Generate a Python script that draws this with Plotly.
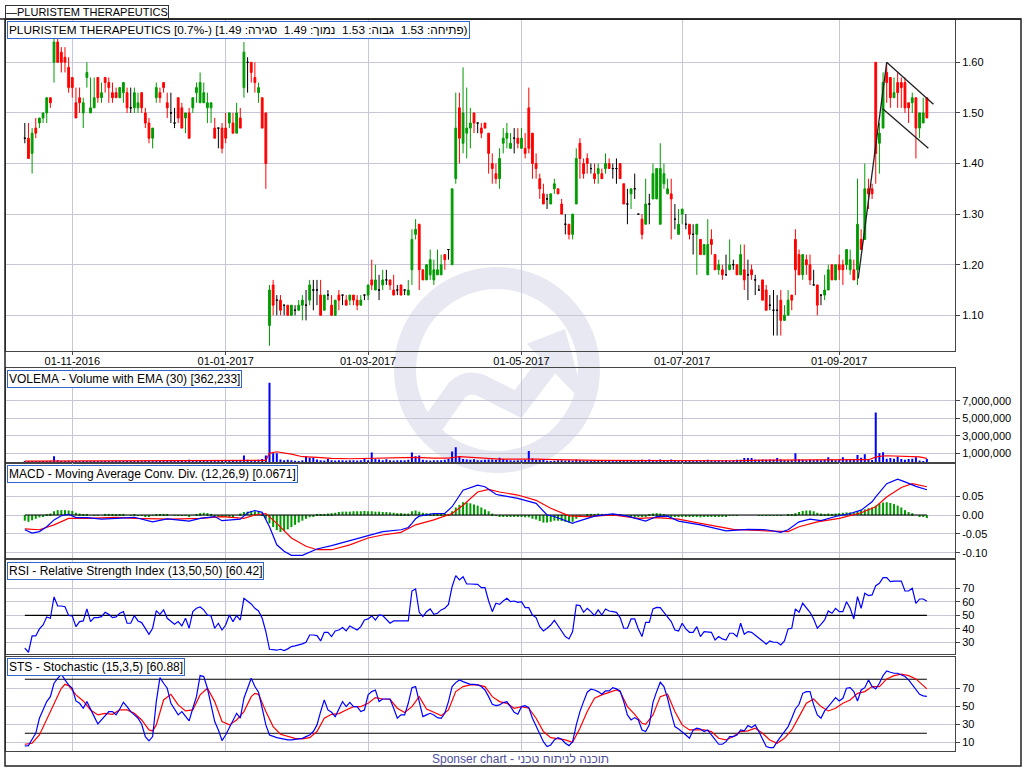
import numpy as np
import pandas as pd
import plotly.graph_objects as go

W, H = 1024, 768

# NYSE holidays inside the window
holidays = ["2016-11-24", "2016-12-26", "2017-01-02", "2017-01-16", "2017-02-20",
            "2017-04-14", "2017-05-29", "2017-07-04", "2017-09-04"]
dates = pd.bdate_range("2016-10-13", "2017-10-06", freq="C", holidays=holidays)
days = np.arange(len(dates))

tick_months = ["2016-11", "2017-01", "2017-03", "2017-05", "2017-07", "2017-09"]

opens = [
    1.45, 1.45, 1.42, 1.47, 1.48, 1.49, 1.50, 1.53, 1.60, 1.64,
    1.62, 1.61, 1.59, 1.57, 1.52, 1.53, 1.50, 1.57, 1.50, 1.51,
    1.57, 1.53, 1.57, 1.56, 1.54, 1.54, 1.53, 1.54, 1.54, 1.51,
    1.51, 1.51, 1.54, 1.50, 1.48, 1.45, 1.53, 1.54, 1.56, 1.52,
    1.50, 1.48, 1.53, 1.51, 1.49, 1.50, 1.51, 1.54, 1.52, 1.52,
    1.51, 1.51, 1.47, 1.47, 1.47, 1.47, 1.48, 1.48, 1.46, 1.49,
    1.55, 1.60, 1.60, 1.57, 1.54, 1.53, 1.50, 1.08, 1.16, 1.13,
    1.13, 1.12, 1.12, 1.10, 1.11, 1.11, 1.12, 1.12, 1.13, 1.15,
    1.15, 1.14, 1.11, 1.14, 1.12, 1.10, 1.14, 1.14, 1.13, 1.13,
    1.14, 1.13, 1.12, 1.14, 1.14, 1.17, 1.15, 1.15, 1.16, 1.17,
    1.17, 1.15, 1.15, 1.16, 1.15, 1.14, 1.19, 1.26, 1.28, 1.19,
    1.17, 1.18, 1.17, 1.18, 1.18, 1.22, 1.23, 1.20, 1.37, 1.51,
    1.44, 1.46, 1.47, 1.50, 1.48, 1.47, 1.48, 1.46, 1.40, 1.38,
    1.37, 1.44, 1.45, 1.43, 1.45, 1.45, 1.43, 1.43, 1.51, 1.46,
    1.40, 1.37, 1.34, 1.33, 1.32, 1.35, 1.35, 1.32, 1.28, 1.28,
    1.26, 1.32, 1.44, 1.40, 1.41, 1.39, 1.38, 1.38, 1.38, 1.39,
    1.40, 1.39, 1.39, 1.40, 1.36, 1.32, 1.34, 1.35, 1.30, 1.29,
    1.28, 1.32, 1.33, 1.33, 1.28, 1.36, 1.34, 1.34, 1.29, 1.26,
    1.30, 1.28, 1.28, 1.26, 1.26, 1.25, 1.22, 1.18, 1.25, 1.22,
    1.19, 1.19, 1.18, 1.19, 1.20, 1.20, 1.18, 1.19, 1.18, 1.19,
    1.17, 1.15, 1.17, 1.15, 1.12, 1.11, 1.11, 1.13, 1.09, 1.10,
    1.14, 1.25, 1.22, 1.18, 1.21, 1.20, 1.16, 1.16, 1.14, 1.14,
    1.15, 1.20, 1.17, 1.20, 1.20, 1.20, 1.19, 1.19, 1.19, 1.25,
    1.25, 1.35, 1.35, 1.60, 1.44, 1.47, 1.58, 1.57, 1.53, 1.56,
    1.56, 1.56, 1.52, 1.52, 1.53, 1.47, 1.48, 1.53,
]
highs = [
    1.48, 1.48, 1.47, 1.49, 1.49, 1.50, 1.53, 1.53, 1.65, 1.65,
    1.63, 1.63, 1.61, 1.57, 1.55, 1.55, 1.53, 1.60, 1.57, 1.57,
    1.57, 1.56, 1.57, 1.57, 1.56, 1.55, 1.55, 1.56, 1.55, 1.55,
    1.55, 1.54, 1.54, 1.51, 1.49, 1.47, 1.56, 1.55, 1.56, 1.54,
    1.54, 1.51, 1.53, 1.52, 1.50, 1.51, 1.53, 1.56, 1.58, 1.56,
    1.54, 1.52, 1.49, 1.47, 1.48, 1.50, 1.50, 1.50, 1.52, 1.51,
    1.64, 1.61, 1.60, 1.60, 1.56, 1.53, 1.50, 1.16, 1.17, 1.14,
    1.14, 1.12, 1.12, 1.12, 1.12, 1.13, 1.14, 1.15, 1.17, 1.17,
    1.17, 1.17, 1.14, 1.15, 1.14, 1.13, 1.15, 1.14, 1.14, 1.14,
    1.14, 1.14, 1.14, 1.14, 1.16, 1.21, 1.20, 1.18, 1.19, 1.19,
    1.17, 1.18, 1.16, 1.16, 1.15, 1.17, 1.27, 1.29, 1.28, 1.19,
    1.20, 1.23, 1.21, 1.23, 1.22, 1.22, 1.23, 1.35, 1.54, 1.54,
    1.59, 1.55, 1.51, 1.50, 1.48, 1.48, 1.48, 1.46, 1.42, 1.40,
    1.43, 1.47, 1.48, 1.46, 1.47, 1.47, 1.47, 1.46, 1.55, 1.46,
    1.42, 1.38, 1.36, 1.34, 1.34, 1.37, 1.35, 1.33, 1.30, 1.28,
    1.30, 1.43, 1.45, 1.41, 1.42, 1.40, 1.40, 1.40, 1.39, 1.42,
    1.41, 1.40, 1.41, 1.40, 1.36, 1.35, 1.35, 1.38, 1.30, 1.30,
    1.37, 1.34, 1.40, 1.39, 1.44, 1.40, 1.37, 1.37, 1.32, 1.31,
    1.31, 1.30, 1.28, 1.28, 1.28, 1.25, 1.24, 1.29, 1.27, 1.22,
    1.21, 1.20, 1.22, 1.25, 1.21, 1.20, 1.24, 1.24, 1.21, 1.20,
    1.18, 1.16, 1.17, 1.16, 1.14, 1.15, 1.14, 1.15, 1.12, 1.15,
    1.14, 1.27, 1.23, 1.22, 1.22, 1.22, 1.19, 1.16, 1.14, 1.18,
    1.20, 1.20, 1.20, 1.22, 1.21, 1.23, 1.23, 1.21, 1.37, 1.27,
    1.40, 1.37, 1.36, 1.60, 1.48, 1.58, 1.60, 1.57, 1.57, 1.58,
    1.57, 1.57, 1.52, 1.54, 1.53, 1.50, 1.53, 1.53,
]
lows = [
    1.44, 1.41, 1.38, 1.45, 1.47, 1.48, 1.48, 1.51, 1.56, 1.60,
    1.58, 1.58, 1.54, 1.53, 1.49, 1.50, 1.47, 1.55, 1.50, 1.51,
    1.52, 1.52, 1.54, 1.52, 1.52, 1.53, 1.53, 1.52, 1.50, 1.50,
    1.50, 1.50, 1.50, 1.47, 1.44, 1.43, 1.52, 1.52, 1.54, 1.49,
    1.48, 1.47, 1.48, 1.47, 1.46, 1.45, 1.50, 1.52, 1.52, 1.52,
    1.48, 1.48, 1.45, 1.43, 1.42, 1.44, 1.47, 1.46, 1.46, 1.47,
    1.53, 1.54, 1.56, 1.54, 1.52, 1.47, 1.35, 1.04, 1.10, 1.10,
    1.10, 1.10, 1.10, 1.10, 1.10, 1.11, 1.09, 1.09, 1.12, 1.11,
    1.12, 1.10, 1.11, 1.13, 1.10, 1.10, 1.11, 1.12, 1.12, 1.12,
    1.12, 1.11, 1.12, 1.13, 1.13, 1.15, 1.15, 1.13, 1.15, 1.16,
    1.15, 1.14, 1.14, 1.14, 1.14, 1.14, 1.16, 1.25, 1.15, 1.17,
    1.17, 1.17, 1.16, 1.18, 1.18, 1.19, 1.21, 1.20, 1.36, 1.40,
    1.42, 1.41, 1.43, 1.46, 1.46, 1.45, 1.47, 1.38, 1.36, 1.36,
    1.35, 1.42, 1.43, 1.43, 1.42, 1.43, 1.43, 1.41, 1.42, 1.37,
    1.37, 1.33, 1.32, 1.31, 1.32, 1.34, 1.34, 1.30, 1.26, 1.25,
    1.25, 1.32, 1.37, 1.37, 1.38, 1.38, 1.36, 1.36, 1.37, 1.38,
    1.39, 1.37, 1.36, 1.37, 1.32, 1.28, 1.31, 1.33, 1.30, 1.25,
    1.28, 1.28, 1.33, 1.33, 1.28, 1.35, 1.34, 1.25, 1.27, 1.26,
    1.28, 1.27, 1.25, 1.22, 1.18, 1.22, 1.22, 1.18, 1.22, 1.19,
    1.18, 1.17, 1.18, 1.19, 1.19, 1.18, 1.18, 1.15, 1.13, 1.17,
    1.14, 1.15, 1.13, 1.11, 1.11, 1.06, 1.06, 1.06, 1.09, 1.10,
    1.11, 1.14, 1.18, 1.17, 1.18, 1.16, 1.16, 1.10, 1.12, 1.13,
    1.15, 1.17, 1.17, 1.17, 1.16, 1.19, 1.18, 1.17, 1.16, 1.23,
    1.25, 1.31, 1.33, 1.36, 1.38, 1.47, 1.52, 1.51, 1.53, 1.51,
    1.51, 1.50, 1.48, 1.50, 1.41, 1.45, 1.48, 1.49,
]
closes = [
    1.45, 1.41, 1.46, 1.46, 1.49, 1.50, 1.53, 1.52, 1.64, 1.60,
    1.60, 1.60, 1.55, 1.55, 1.49, 1.52, 1.52, 1.58, 1.51, 1.53,
    1.53, 1.54, 1.56, 1.55, 1.53, 1.53, 1.55, 1.56, 1.51, 1.51,
    1.54, 1.52, 1.51, 1.48, 1.45, 1.47, 1.55, 1.53, 1.55, 1.51,
    1.50, 1.48, 1.49, 1.47, 1.50, 1.45, 1.53, 1.55, 1.56, 1.54,
    1.52, 1.52, 1.45, 1.47, 1.43, 1.45, 1.50, 1.46, 1.50, 1.47,
    1.62, 1.60, 1.58, 1.56, 1.55, 1.47, 1.40, 1.15, 1.12, 1.13,
    1.11, 1.12, 1.10, 1.12, 1.11, 1.12, 1.13, 1.12, 1.16, 1.15,
    1.15, 1.10, 1.14, 1.14, 1.10, 1.13, 1.13, 1.14, 1.12, 1.14,
    1.13, 1.12, 1.13, 1.14, 1.16, 1.16, 1.17, 1.15, 1.17, 1.17,
    1.16, 1.14, 1.15, 1.14, 1.15, 1.15, 1.25, 1.27, 1.19, 1.17,
    1.20, 1.21, 1.19, 1.19, 1.20, 1.21, 1.23, 1.35, 1.47, 1.45,
    1.50, 1.47, 1.48, 1.48, 1.48, 1.46, 1.47, 1.42, 1.39, 1.37,
    1.41, 1.45, 1.46, 1.44, 1.45, 1.44, 1.45, 1.42, 1.43, 1.40,
    1.39, 1.35, 1.32, 1.33, 1.34, 1.36, 1.34, 1.30, 1.28, 1.26,
    1.30, 1.41, 1.41, 1.38, 1.40, 1.39, 1.37, 1.39, 1.37, 1.40,
    1.39, 1.39, 1.39, 1.37, 1.32, 1.32, 1.35, 1.35, 1.30, 1.26,
    1.32, 1.32, 1.38, 1.39, 1.39, 1.38, 1.35, 1.33, 1.29, 1.28,
    1.31, 1.28, 1.26, 1.26, 1.28, 1.22, 1.24, 1.24, 1.24, 1.19,
    1.20, 1.18, 1.18, 1.20, 1.20, 1.18, 1.22, 1.17, 1.18, 1.18,
    1.17, 1.15, 1.13, 1.11, 1.12, 1.11, 1.11, 1.09, 1.10, 1.13,
    1.13, 1.19, 1.18, 1.22, 1.20, 1.17, 1.16, 1.12, 1.14, 1.15,
    1.19, 1.17, 1.20, 1.19, 1.19, 1.23, 1.21, 1.17, 1.28, 1.23,
    1.35, 1.34, 1.34, 1.42, 1.46, 1.56, 1.56, 1.53, 1.54, 1.54,
    1.55, 1.51, 1.51, 1.53, 1.47, 1.50, 1.50, 1.49,
]

# volume in thousands of shares
volumes_k = [
    100, 120, 130, 110, 100, 120, 130, 140, 650, 200,
    120, 130, 150, 120, 110, 100, 150, 120, 100, 110,
    120, 100, 110, 100, 120, 110, 100, 120, 100, 110,
    100, 120, 110, 150, 130, 120, 110, 100, 110, 120,
    110, 100, 120, 130, 150, 250, 220, 150, 130, 200,
    120, 110, 130, 120, 150, 130, 120, 110, 150, 160,
    750, 250, 200, 220, 250, 350, 750, 9050, 1000, 1000,
    280, 200, 270, 200, 150, 130, 200, 650, 500, 500,
    280, 200, 180, 350, 200, 180, 200, 200, 180, 220,
    200, 180, 200, 350, 220, 1100, 350, 300, 200, 330,
    200, 180, 200, 220, 200, 250, 1100, 650, 750, 250,
    200, 180, 200, 220, 200, 250, 350, 1200, 1700, 650,
    350, 280, 250, 330, 200, 220, 250, 300, 280, 250,
    500, 350, 250, 200, 180, 200, 220, 250, 1250, 400,
    250, 250, 250, 150, 120, 150, 200, 200, 180, 200,
    180, 300, 200, 150, 130, 150, 200, 220, 180, 150,
    120, 130, 150, 120, 180, 200, 180, 150, 200, 250,
    220, 300, 180, 200, 300, 150, 180, 300, 150, 130,
    150, 120, 180, 150, 200, 150, 220, 250, 180, 150,
    200, 180, 220, 150, 200, 250, 250, 450, 450, 450,
    300, 250, 300, 250, 300, 250, 450, 300, 200, 180,
    200, 1000, 300, 250, 200, 250, 200, 250, 200, 250,
    550, 250, 200, 250, 550, 300, 280, 300, 800, 500,
    900, 230, 230, 5650, 1000, 1110, 380, 460, 380, 610,
    340, 270, 340, 380, 540, 190, 120, 362,
]
vol_ema_days = [0, 20, 40, 60, 66, 67, 69, 73, 76, 80, 84, 89, 94, 103, 107, 112, 116, 119,
                125, 130, 140, 145, 157, 176, 194, 203, 212, 222, 231, 233, 234, 236, 240, 243, 245, 247]
vol_ema_k = [110, 120, 120, 150, 200, 1000, 1180, 910, 610, 530, 420, 380, 420, 420, 530, 460, 460, 610,
             420, 340, 340, 270, 190, 150, 150, 230, 270, 230, 270, 560, 650, 720, 700, 680, 600, 430]

macd_days = [0, 2, 4, 6, 8, 10, 12, 14, 17, 21, 25, 30, 35, 39, 45, 48, 52, 54, 59, 61, 63, 65, 67,
             69, 71, 73, 76, 80, 84, 89, 94, 98, 103, 105, 106, 107, 108, 112, 115, 117, 120, 124,
             126, 129, 130, 135, 140, 143, 145, 150, 151, 156, 161, 165, 170, 173, 176, 179, 185,
             192, 198, 203, 207, 209, 212, 215, 218, 222, 226, 229, 232, 233, 236, 239, 241, 244, 247]
macd_vals = [-0.039, -0.048, -0.044, -0.031, -0.013, -0.002, 0.002, -0.007, -0.007, -0.011, -0.009,
             -0.006, -0.018, -0.010, -0.016, -0.009, -0.004, -0.015, -0.011, 0.006, 0.012, 0.007, -0.031,
             -0.079, -0.096, -0.107, -0.107, -0.090, -0.081, -0.068, -0.053, -0.044, -0.039, -0.033,
             -0.022, -0.010, -0.003, 0.004, 0.004, 0.022, 0.066, 0.079,
             0.075, 0.055, 0.053, 0.044, 0.031, 0.000, -0.004, -0.022, -0.018, -0.003, 0.003, -0.003,
             -0.016, -0.004, -0.003, -0.016, -0.026,
             -0.042, -0.038, -0.039, -0.046, -0.039, -0.018, -0.011, -0.015, -0.004, 0.004, 0.013,
             0.035, 0.048, 0.083, 0.095, 0.088, 0.076, 0.067]
signal_days = [0, 4, 8, 12, 17, 25, 30, 40, 48, 54, 60, 63, 66, 69, 73, 77, 80, 84, 89, 94, 98, 103,
               107, 112, 117, 120, 124, 127, 130, 135, 140, 144, 149, 154, 161, 168, 173, 179, 185,
               194, 203, 209, 212, 217, 223, 229, 233, 236, 240, 243, 247]
signal_vals = [-0.037, -0.039, -0.026, -0.009, -0.009, -0.006, -0.009, -0.011, -0.009, -0.004, -0.009,
               0.000, 0.004, -0.022, -0.061, -0.083, -0.092, -0.092, -0.079, -0.061, -0.053, -0.046,
               -0.026, -0.013, 0.004, 0.026, 0.061, 0.068, 0.061, 0.053, 0.039, 0.018, -0.002, -0.004,
               0.000, -0.009, -0.007, -0.011, -0.022,
               -0.038, -0.042, -0.044, -0.031, -0.018, -0.009, 0.006, 0.022, 0.048, 0.073, 0.083, 0.075]
macd_hist = [
    -0.015, -0.018, -0.014, -0.010, -0.006, -0.003, 0.001, 0.004, 0.010, 0.013,
    0.013, 0.013, 0.012, 0.011, 0.006, 0.004, 0.002, 0.003, 0.000, -0.001,
    -0.002, 0.000, 0.003, 0.003, 0.001, 0.001, 0.001, 0.003, 0.000, -0.001,
    0.001, -0.001, -0.002, -0.003, -0.004, -0.002, 0.002, 0.002, 0.003, 0.001,
    0.000, -0.001, -0.001, -0.002, -0.001, -0.003, 0.000, 0.003, 0.005, 0.006,
    0.005, 0.003, -0.002, -0.004, -0.005, -0.005, -0.004, -0.004, 0.000, 0.004,
    0.008, 0.009, 0.010, 0.010, 0.009, 0.004, -0.010, -0.022, -0.032, -0.040,
    -0.045, -0.042, -0.038, -0.032, -0.026, -0.020, -0.015, -0.010, -0.006, -0.003,
    0.001, 0.001, 0.002, 0.004, 0.005, 0.006, 0.008, 0.009, 0.009, 0.009,
    0.010, 0.010, 0.010, 0.011, 0.010, 0.010, 0.009, 0.009, 0.008, 0.008,
    0.007, 0.006, 0.005, 0.005, 0.004, 0.004, 0.010, 0.012, 0.009, 0.006,
    0.005, 0.004, 0.003, 0.002, 0.002, 0.002, 0.003, 0.010, 0.020, 0.027,
    0.034, 0.033, 0.031, 0.028, 0.025, 0.020, 0.015, 0.010, 0.004, -0.002,
    -0.004, -0.004, -0.005, -0.004, -0.005, -0.004, -0.005, -0.006, -0.006, -0.010,
    -0.012, -0.016, -0.020, -0.020, -0.018, -0.015, -0.015, -0.016, -0.018, -0.020,
    -0.018, -0.010, -0.004, 0.000, 0.002, 0.003, 0.003, 0.004, 0.003, 0.003,
    0.003, 0.003, 0.002, 0.001, -0.002, -0.004, -0.004, -0.003, -0.003, -0.004,
    -0.003, 0.002, 0.004, 0.005, 0.004, 0.002, -0.001, -0.003, -0.004, -0.004,
    -0.004, -0.005, -0.005, -0.005, -0.005, -0.006, -0.005, -0.005, -0.005, -0.005,
    -0.005, -0.003, -0.003, -0.002, -0.002, -0.002, 0.000, 0.000, 0.000, 0.000,
    0.000, -0.001, -0.002, -0.002, -0.002, -0.002, -0.002, -0.002, 0.000, 0.001,
    0.002, 0.005, 0.008, 0.011, 0.012, 0.012, 0.010, 0.006, 0.004, 0.003,
    0.004, 0.003, 0.004, 0.005, 0.006, 0.007, 0.007, 0.006, 0.010, 0.012,
    0.015, 0.018, 0.020, 0.025, 0.030, 0.033, 0.034, 0.032, 0.029, 0.025,
    0.020, 0.013, 0.008, 0.005, 0.000, -0.003, -0.004, -0.008,
]
rsi = [
    25.6, 22.6, 34.7, 34.7, 39.9, 42.8, 48.8, 47.8, 63.6, 56.9,
    56.9, 56.4, 49.8, 49.5, 41.6, 45.3, 45.8, 54.7, 45.3, 48.3,
    48.3, 49.0, 52.2, 50.7, 48.3, 48.8, 51.5, 52.7, 44.1, 44.1,
    49.8, 45.8, 44.6, 40.4, 35.9, 40.4, 53.5, 50.7, 54.0, 47.8,
    45.8, 43.3, 45.3, 42.1, 47.8, 40.4, 52.7, 55.2, 56.2, 54.0,
    50.2, 49.5, 40.4, 44.1, 39.1, 42.8, 50.2, 45.3, 49.8, 46.5,
    62.6, 60.6, 58.4, 55.2, 53.2, 47.8, 37.9, 24.8, 24.3, 24.1,
    24.8, 23.8, 25.1, 26.8, 27.3, 28.0, 28.8, 30.0, 35.4, 35.4,
    34.9, 31.0, 37.4, 37.4, 34.2, 38.4, 39.1, 40.9, 38.4, 42.1,
    40.9, 39.1, 41.6, 46.5, 47.3, 49.5, 46.5, 50.2, 49.8, 47.3,
    44.1, 45.8, 45.8, 45.8, 45.8, 45.8, 68.0, 69.5, 52.2, 49.0,
    52.7, 54.7, 50.7, 51.5, 54.0, 55.2, 58.1, 71.2, 79.4, 76.2,
    78.6, 73.2, 73.2, 73.2, 73.0, 70.5, 70.5, 60.6, 52.7, 58.9,
    58.1, 60.6, 62.6, 60.1, 60.6, 59.6, 60.1, 55.7, 55.7, 50.2,
    48.3, 41.6, 38.4, 40.4, 42.8, 46.3, 42.3, 37.9, 34.2, 32.5,
    37.9, 57.7, 57.2, 52.2, 55.2, 52.7, 49.8, 54.0, 50.2, 54.7,
    53.2, 52.7, 52.2, 48.3, 40.4, 40.4, 47.3, 47.3, 39.9, 34.2,
    44.8, 44.8, 54.7, 55.9, 55.7, 52.2, 48.3, 45.3, 39.1, 38.4,
    44.1, 39.9, 37.4, 37.4, 41.6, 34.2, 37.9, 37.9, 37.4, 31.7,
    34.2, 32.5, 31.7, 36.7, 36.7, 34.2, 44.1, 35.9, 37.9, 37.4,
    35.4, 33.5, 31.0, 28.5, 31.0, 30.0, 30.0, 28.0, 31.0, 39.9,
    40.4, 54.7, 52.2, 58.9, 55.7, 52.2, 47.3, 40.4, 43.3, 46.5,
    53.2, 51.5, 55.2, 52.7, 52.7, 60.1, 55.2, 47.3, 63.8, 55.2,
    66.3, 64.6, 65.1, 72.0, 73.7, 77.9, 77.9, 74.9, 75.4, 75.4,
    75.4, 68.0, 68.0, 70.0, 58.9, 62.1, 62.1, 60.4,
]
sto_k = [
    5.9, 6.3, 13.3, 20.0, 36.7, 45.9, 55.2, 60.7, 75.6, 81.1,
    85.6, 79.3, 73.7, 70.0, 55.9, 53.3, 47.8, 55.2, 45.9, 38.5,
    30.4, 34.8, 40.4, 44.1, 44.1, 40.4, 47.0, 54.4, 49.6, 44.1,
    40.4, 36.7, 30.0, 16.3, 11.5, 16.3, 55.2, 81.9, 75.6, 70.0,
    53.3, 47.0, 40.4, 44.1, 38.5, 33.7, 47.8, 60.7, 84.1, 83.0,
    70.0, 52.2, 33.0, 23.7, 11.9, 18.1, 25.6, 33.0, 42.2, 36.7,
    58.9, 70.0, 81.1, 71.9, 65.6, 47.8, 29.3, 18.1, 16.3, 15.2,
    14.4, 13.3, 12.6, 12.6, 13.0, 13.7, 14.4, 16.3, 18.1, 21.9,
    29.3, 44.1, 57.0, 45.9, 43.3, 38.5, 47.0, 55.2, 49.6, 54.4,
    49.6, 49.6, 44.1, 45.9, 62.6, 66.3, 68.1, 55.2, 58.1, 58.1,
    58.1, 47.8, 36.7, 40.4, 40.4, 53.3, 70.7, 71.9, 55.9, 38.5,
    40.4, 42.2, 40.4, 37.4, 36.7, 42.2, 55.2, 71.9, 76.3, 79.3,
    77.4, 75.6, 74.4, 74.4, 73.7, 71.9, 68.1, 60.7, 52.2, 50.7,
    51.5, 54.1, 55.2, 49.6, 43.3, 41.1, 49.6, 50.7, 48.5, 36.7,
    27.4, 18.1, 10.7, 5.2, 7.0, 12.6, 15.2, 13.3, 8.9, 6.3,
    10.7, 29.3, 44.1, 55.2, 65.6, 68.9, 68.1, 66.3, 63.3, 67.0,
    67.0, 70.7, 69.3, 67.0, 55.2, 40.4, 34.8, 37.4, 34.8, 23.7,
    21.9, 29.3, 54.4, 66.3, 76.7, 71.9, 58.9, 42.2, 27.4, 24.8,
    21.9, 18.1, 14.4, 23.7, 25.6, 24.8, 21.9, 23.7, 18.1, 12.6,
    7.8, 7.8, 10.7, 16.3, 16.3, 18.1, 23.7, 22.6, 28.5, 26.3,
    29.3, 21.9, 12.6, 5.2, 4.1, 4.1, 10.7, 16.3, 22.6, 27.4,
    36.7, 47.0, 52.2, 64.4, 66.3, 66.3, 51.5, 40.4, 36.7, 44.8,
    49.6, 55.2, 59.6, 55.9, 58.9, 70.0, 70.7, 66.3, 55.9, 68.1,
    70.7, 79.3, 71.9, 69.3, 75.6, 84.1, 89.3, 87.8, 86.7, 86.7,
    84.8, 83.0, 79.3, 73.7, 68.1, 63.3, 61.5, 60.9,
]
sto_d_days = [0, 2, 4, 6, 8, 10, 11, 12, 14, 16, 18, 20, 22, 24, 26, 28, 30, 32, 34, 35, 36, 38, 40,
              42, 44, 46, 48, 50, 52, 54, 56, 58, 60, 62, 63, 64, 66, 68, 70, 72, 74, 76, 78, 80, 82,
              84, 86, 88, 90, 92, 94, 96, 98, 100, 102, 104, 106, 108, 110, 112, 114, 116, 118, 120,
              122, 124, 126, 128, 130, 132, 134, 136, 138, 140, 142, 144, 146, 148, 150, 152, 154,
              156, 158, 160, 162, 163, 165, 167, 169, 170, 172, 174, 176, 178, 180, 182, 184, 186,
              188, 190, 192, 194, 196, 198, 200, 202, 204, 206, 208, 210, 212, 214, 216, 218, 220,
              222, 224, 226, 228, 230, 232, 234, 236, 238, 240, 242, 244, 246, 247]
sto_d_vals = [7.8, 8.9, 18.1, 34.8, 51.5, 70.0, 74.4, 73.0, 62.6, 55.9, 45.9, 40.4, 42.2, 41.1, 45.9,
              45.9, 42.2, 34.8, 23.7, 22.6, 29.3, 57.0, 63.3, 51.5, 44.8, 45.9, 62.6, 70.0, 55.2, 33.0,
              29.3, 34.8, 44.1, 60.7, 64.4, 63.3, 44.1, 27.4, 18.9, 16.3, 14.4, 13.7, 15.2, 21.9, 36.7,
              41.1, 41.9, 45.9, 49.6, 49.6, 53.3, 59.6, 58.1, 57.8, 47.8, 43.0, 49.6, 60.7, 47.0, 43.3,
              39.6, 45.9, 66.3, 71.9, 73.7, 73.7, 71.9, 60.7, 55.2, 53.3, 47.8, 49.6, 47.8, 36.7, 21.9,
              15.2, 13.7, 12.6, 10.0, 25.6, 44.1, 58.9, 62.6, 65.2, 68.1, 66.3, 49.6, 41.1, 31.1, 30.0,
              40.4, 60.7, 63.3, 44.1, 29.3, 23.7, 23.7, 23.7, 21.9, 14.4, 12.6, 16.3, 21.9, 22.6, 25.6,
              20.0, 12.6, 8.9, 14.4, 23.7, 38.5, 53.3, 58.1, 49.6, 44.8, 47.8, 53.3, 57.0, 64.4, 66.3,
              71.9, 71.9, 80.4, 84.1, 85.6, 84.1, 80.4, 73.0, 69.3]

rsi_levels = [50]
sto_levels = [80, 20]
macd_levels = [0]

# hand drawn trend lines: (day0, price0, day1, price1)
trend_lines = [(228.2, 1.173, 236.0, 1.600),
               (236.0, 1.600, 248.8, 1.517),
               (234.9, 1.508, 247.4, 1.430)]

title_main = ("PLURISTEM THERAPEUTICS [0.7%-) [פתיחה: 1.53 \u00a0גבוה: 1.53 \u00a0"
              "נמוך: 1.49 \u00a0סגירה: 1.49)")
titles = [title_main,
          "VOLEMA - Volume with EMA (30) [362,233]",
          "MACD - Moving Average Conv. Div. (12,26,9) [0.0671]",
          "RSI - Relative Strength Index (13,50,50) [60.42]",
          "STS - Stochastic (15,3,5) [60.88]"]

GREEN, RED, BLUE = "#009c00", "#ff0000", "#0000ff"
GRID, FRAME = "#c6c6d6", "#454545"
FONT = "Liberation Sans, Arial, sans-serif"

o, h, l, c = (np.array(a) for a in (opens, highs, lows, closes))
volumes = np.array(volumes_k) * 1000

month_str = dates.strftime("%Y-%m")
tick_pos = [int(np.argmax(month_str == m)) for m in tick_months]
tick_txt = [dates[p].strftime("01-%m-%Y") for p in tick_pos]

# panel pixel boxes (top, bottom), y range and ticks
panels = [
    (20, 351, [1.0295, 1.6836], [1.1, 1.2, 1.3, 1.4, 1.5, 1.6]),
    (368, 462.5, [-0.05e6, 10.75e6], [1e6, 3e6, 5e6, 7e6]),
    (463, 558, [-0.114, 0.138], [-0.10, -0.05, 0.0, 0.05]),
    (560, 654, [21.3, 91], [30, 40, 50, 60, 70]),
    (656.5, 751, [0.3, 105.3], [10, 30, 50, 70]),
]

fig = go.Figure()

for mask, col in [(c > o, GREEN), (c < o, RED), (c == o, "#000000")]:
    side = dict(line=dict(color=col, width=1), fillcolor=col)
    fig.add_trace(go.Candlestick(x=days[mask], open=o[mask], high=h[mask], low=l[mask],
                                 close=c[mask], increasing=side, decreasing=side,
                                 whiskerwidth=0, hoverinfo="skip", xaxis="x", yaxis="y"))

for d0, p0, d1, p1 in trend_lines:
    fig.add_trace(go.Scatter(x=[d0, d1], y=[p0, p1], mode="lines",
                             line=dict(color="#202020", width=1.3), xaxis="x", yaxis="y"))

fig.add_trace(go.Bar(x=days, y=volumes, width=0.55, marker=dict(color=BLUE, line_width=0),
                     xaxis="x2", yaxis="y2"))
fig.add_trace(go.Scatter(x=vol_ema_days, y=np.array(vol_ema_k) * 1000, mode="lines",
                         line=dict(color=RED, width=1.2), xaxis="x2", yaxis="y2"))

fig.add_trace(go.Bar(x=days, y=macd_hist, width=0.55, marker=dict(color=GREEN, line_width=0),
                     xaxis="x3", yaxis="y3"))
for lv in macd_levels:
    fig.add_trace(go.Scatter(x=[days[0], days[-1]], y=[lv, lv], mode="lines",
                             line=dict(color="black", width=1.2), xaxis="x3", yaxis="y3"))
fig.add_trace(go.Scatter(x=signal_days, y=signal_vals, mode="lines", line=dict(color=RED, width=1.2),
                         xaxis="x3", yaxis="y3"))
fig.add_trace(go.Scatter(x=macd_days, y=macd_vals, mode="lines", line=dict(color=BLUE, width=1.2),
                         xaxis="x3", yaxis="y3"))

for lv in rsi_levels:
    fig.add_trace(go.Scatter(x=[days[0], days[-1]], y=[lv, lv], mode="lines",
                             line=dict(color="black", width=1.2), xaxis="x4", yaxis="y4"))
fig.add_trace(go.Scatter(x=days, y=rsi, mode="lines", line=dict(color=BLUE, width=1.2),
                         xaxis="x4", yaxis="y4"))

for lv in sto_levels:
    fig.add_trace(go.Scatter(x=[days[0], days[-1]], y=[lv, lv], mode="lines",
                             line=dict(color="black", width=1.2), xaxis="x5", yaxis="y5"))
fig.add_trace(go.Scatter(x=sto_d_days, y=sto_d_vals, mode="lines", line=dict(color=RED, width=1.2),
                         xaxis="x5", yaxis="y5"))
fig.add_trace(go.Scatter(x=days, y=sto_k, mode="lines", line=dict(color=BLUE, width=1.2),
                         xaxis="x5", yaxis="y5"))

layout = dict(width=W, height=H, margin=dict(l=0, r=0, t=0, b=0), showlegend=False,
              paper_bgcolor="white", plot_bgcolor="rgba(0,0,0,0)",
              font=dict(family=FONT, size=11, color="black"), hovermode=False)

annotations, shapes = [], []
for k, (top, bot, rng, tv) in enumerate(panels):
    sfx = "" if k == 0 else str(k + 1)
    xa = dict(domain=[6 / W, 955 / W], anchor="y" + sfx, range=[-5.15, 254.7],
              tickvals=tick_pos, ticktext=tick_txt, showticklabels=(k == 0),
              showgrid=True, gridcolor=GRID, gridwidth=1, zeroline=False,
              showline=True, mirror=True, linecolor=FRAME, linewidth=1,
              ticks="outside" if k == 0 else "", ticklen=3, tickcolor=FRAME)
    if k == 0:
        xa["rangeslider"] = dict(visible=False)
        xa["ticklabelstandoff"] = -3
    else:
        xa["matches"] = "x"
    if k == 1:
        tt = [f"{int(v):,}" for v in tv]
    elif k in (0, 2):
        tt = [f"{v:.2f}" for v in tv]
    else:
        tt = [str(v) for v in tv]
    ya = dict(domain=[1 - bot / H, 1 - top / H], anchor="x" + sfx, side="right", range=rng,
              tickvals=tv, ticktext=tt, showgrid=True, gridcolor=GRID, gridwidth=1,
              zeroline=False, showline=True, mirror=True, linecolor=FRAME, linewidth=1,
              ticks="outside", ticklen=4, tickcolor=FRAME)
    layout["xaxis" + sfx] = xa
    layout["yaxis" + sfx] = ya
    annotations.append(dict(text=titles[k], xref="paper", yref="paper", x=6.5 / W, y=1 - (top + 1.5) / H,
                            xanchor="left", yanchor="top", showarrow=False, bgcolor="white",
                            bordercolor="#3366cc", borderwidth=1, borderpad=1,
                            font=dict(family=FONT, size=11.8 if k == 0 else 12, color="black")))

annotations.append(dict(text="\u2014PLURISTEM THERAPEUTICS", xref="paper", yref="paper",
                        x=5 / W, y=1 - 4.5 / H, xanchor="left", yanchor="top", showarrow=False,
                        bgcolor="white", bordercolor="#333333", borderwidth=1, borderpad=0,
                        font=dict(family=FONT, size=11, color="black")))
annotations.append(dict(text="Sponser chart - תוכנה לניתוח טכני", xref="paper", yref="paper",
                        x=520 / W, y=1 - 759 / H, xanchor="center", yanchor="middle", showarrow=False,
                        font=dict(family=FONT, size=12, color="#5050a0")))


def pt(x, y):
    return f"{x / W:.5f},{1 - y / H:.5f}"


WM = "#e8e8f3"
shapes.append(dict(type="circle", xref="paper", yref="paper", layer="below",
                   x0=(497 - 92) / W, x1=(497 + 92) / W, y0=1 - (370 + 92) / H, y1=1 - (370 - 92) / H,
                   line=dict(color=WM, width=22)))
shapes.append(dict(type="path", xref="paper", yref="paper", layer="below",
                   path="M " + pt(433, 424) + " L " + pt(457, 390) + " Q " + pt(470, 378) + " " + pt(486, 388)
                        + " L " + pt(518, 404) + " L " + pt(553, 358),
                   line=dict(color=WM, width=22)))
shapes.append(dict(type="path", xref="paper", yref="paper", layer="below",
                   path="M " + pt(563, 333) + " L " + pt(532, 345) + " L " + pt(580, 395) + " Z",
                   fillcolor=WM, line=dict(color=WM, width=6)))

shapes.append(dict(type="line", xref="paper", yref="paper", x0=0, x1=1021 / W, y0=1 - 19 / H, y1=1 - 19 / H,
                   line=dict(color="#222222", width=1.5)))
shapes.append(dict(type="rect", xref="paper", yref="paper", x0=5 / W, x1=1021 / W,
                   y0=1 - 766 / H, y1=1 - 19 / H, line=dict(color="#222222", width=1.5)))

layout["annotations"] = annotations
layout["shapes"] = shapes
fig.update_layout(**layout)

# the page has a default body margin; drop it so the figure sits at the window corner
fig.write_html("out.html", config={"displayModeBar": False},
               post_script="document.body.style.margin='0';")
